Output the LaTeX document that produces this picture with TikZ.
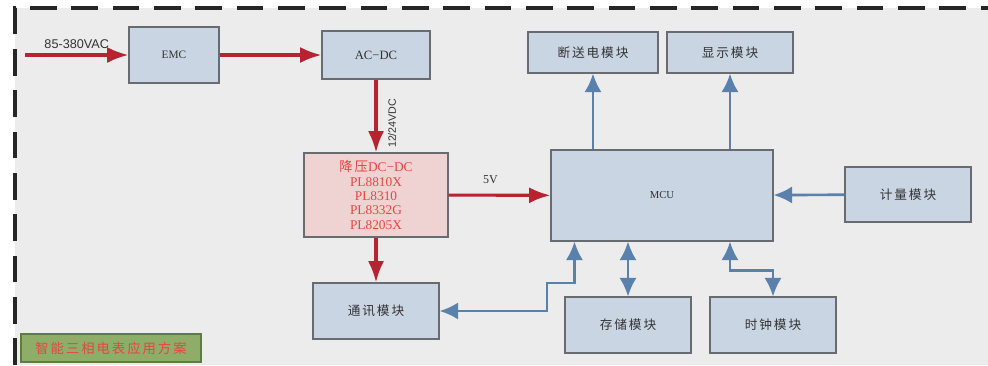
\documentclass[tikz,border=0pt]{standalone}
\usepackage{fontspec}
\setmainfont{Liberation Serif}
\newfontfamily\cjk[LetterSpace=15]{Noto Sans CJK SC}
\newfontfamily\lblsans{Liberation Sans}
\usetikzlibrary{arrows.meta}
\definecolor{boxblue}{HTML}{C9D5E3}
\definecolor{boxpink}{HTML}{EFD3D3}
\definecolor{boxedge}{HTML}{686B70}
\definecolor{powerred}{HTML}{B52430}
\definecolor{sigblue}{HTML}{5A80AC}
\definecolor{textred}{HTML}{E8453F}
\definecolor{panelgray}{HTML}{ECECEC}
\definecolor{taggreen}{HTML}{8DAD69}
\definecolor{tagedge}{HTML}{5E7A45}

\begin{document}
\begin{tikzpicture}[x=0.75pt, y=-0.75pt,
  module/.style={draw=boxedge, fill=boxblue, line width=.8pt, text=black!80,
    font=\cjk\fontsize{9.5}{11}\selectfont, inner sep=0pt,
    minimum width=94.5pt, minimum height=42pt},
  buck/.style={draw=boxedge, fill=boxpink, line width=.8pt, text=textred,
    align=center, font=\fontsize{10}{10.8}\selectfont, inner sep=0pt,
    minimum width=108pt, minimum height=63pt},
  tag/.style={draw=tagedge, fill=taggreen, line width=.8pt, text=textred,
    font=\cjk\fontsize{10}{12}\selectfont, inner sep=0pt,
    minimum width=135pt, minimum height=21pt},
  power/.style={>={Latex[length=16pt,width=12pt]}, ->, draw=powerred, line width=2.3pt},
  signal/.style={>={Latex[length=14pt,width=13pt]}, draw=sigblue, line width=2pt}]
  \useasboundingbox (0,0) rectangle (988,365);
  \fill[white] (0,0) rectangle (988,365);
  \fill[panelgray] (15,8) rectangle (988,365);
  \draw[black!85, line width=2.5pt, dash pattern=on 20pt off 11pt]
    (15,365) -- (15,8) -- (988,8);

  % power chain
  \coordinate (acin) at (25,55);
  \node[module, minimum width=67.5pt] (emc) at (174,55)
    {\fontsize{8.5}{10}\rmfamily EMC};
  \node[module, minimum width=81pt, minimum height=36pt] (acdc) at (376,55)
    {\fontsize{9.5}{11}\rmfamily AC−DC};
  \node[buck] (dcdc) at (376,195)
    {{\cjk 降压}DC−DC\\PL8810X\\PL8310\\PL8332G\\PL8205X};

  % controller and peripherals
  \node[module, minimum width=166.5pt, minimum height=68.25pt] (mcu) at (662,195.5)
    {\fontsize{8}{10}\rmfamily MCU};
  \node[module, minimum width=97.5pt, minimum height=30.75pt] (relay) at (593,52.5) {断送电模块};
  \node[module, minimum height=30.75pt] (disp) at (730,52.5) {显示模块};
  \node[module, minimum height=41.25pt] (meter) at (908,194.5) {计量模块};
  \node[module] (comm) at (376,311) {通讯模块};
  \node[module] (store) at (628,325) {存储模块};
  \node[module] (clock) at (773,325) {时钟模块};
  \node[tag] (title) at (111,348) {智能三相电表应用方案};

  \draw[power] (acin) -- node[above, font=\lblsans\fontsize{9.5}{11}\selectfont,
    text=black!80] {85-380VAC} (emc);
  \draw[power] (emc) -- (acdc);
  \draw[power] (acdc) -- node[pos=.6, rotate=90, anchor=north, inner sep=8pt,
    font=\lblsans\fontsize{8}{10}\selectfont, text=black!80] {12/24VDC} (dcdc);
  \draw[power] (dcdc) -- node[pos=.41, above=4pt, font=\fontsize{9}{11}\selectfont,
    text=black!80] {5V} (mcu);
  \draw[power] (dcdc) -- (comm);

  \draw[signal, ->] (mcu.north -| relay.south) -- (relay);
  \draw[signal, ->] (mcu.north -| disp.south) -- (disp);
  \draw[signal, ->] (meter) -- (mcu);
  \draw[signal, <->] (comm.east) -| (547,283) -| ([xshift=18pt]mcu.south west);
  \draw[signal, <->] (mcu.south -| store.north) -- (store);
  \draw[signal, <->] (mcu.south -| disp.south) -- ++(0,29) -| (clock.north);
\end{tikzpicture}
\end{document}
